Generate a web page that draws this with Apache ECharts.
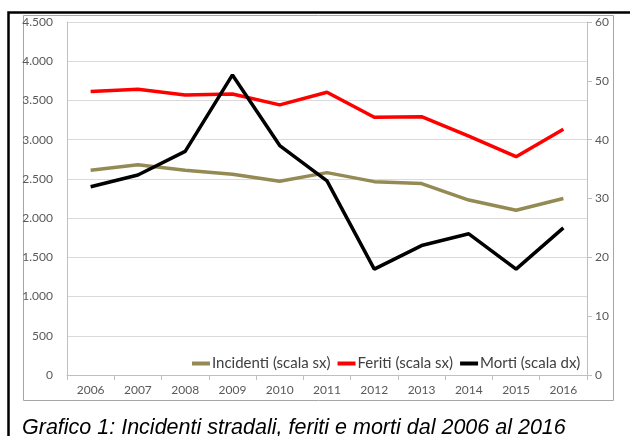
<!DOCTYPE html>
<html>
<head>
<meta charset="utf-8">
<script src="https://cdn.jsdelivr.net/npm/echarts@6/dist/echarts.min.js"></script>
<style>
  html, body { margin: 0; padding: 0; background: #fff; }
  #chart { width: 630px; height: 436px; }
</style>
</head>
<body>
<div id="chart"></div>
<script>
// anni sull'asse x
const years = ["2006", "2007", "2008", "2009", "2010", "2011", "2012", "2013", "2014", "2015", "2016"];

// valori
const incidenti = [2610, 2680, 2610, 2560, 2470, 2580, 2465, 2440, 2230, 2100, 2250];
const feriti = [3613, 3643, 3570, 3583, 3443, 3604, 3285, 3293, 3045, 2783, 3132];
const morti = [32, 34, 38, 51, 39, 33, 18, 22, 24, 18, 25];

const caption = "Grafico 1: Incidenti stradali, feriti e morti dal 2006 al 2016";

const labelFont = "Lato, 'Open Sans', sans-serif";
const axisGray = "#bfbfbf";

const fmtThousands = (v) => String(v).replace(/\B(?=(\d{3})+(?!\d))/g, ".");

const chart = echarts.init(document.getElementById("chart"));

chart.setOption({
    animation: false,
    textStyle: { fontFamily: labelFont },
    grid: {
        left: 67,
        right: 43,
        top: 22,
        bottom: 61,
    },
    graphic: [
        {
            type: "rect",
            shape: { x: 23.5, y: 15.5, width: 590, height: 385 },
            style: { fill: null, stroke: "#a6a6a6", lineWidth: 1 },
            silent: true,
        },
        {
            type: "rect",
            shape: { x: 8.5, y: 12.5, width: 640, height: 460 },
            style: { fill: null, stroke: "#000", lineWidth: 2.5 },
            silent: true,
        },
        {
            type: "text",
            left: 22,
            top: 417,
            style: {
                text: caption,
                fill: "#000",
                font: "italic 21.5px 'Liberation Sans', Arial, sans-serif",
            },
            silent: true,
        },
    ],
    legend: {
        left: 187,
        top: 351,
        itemGap: 7,
        itemWidth: 18,
        itemHeight: 4,
        icon: "rect",
        textStyle: { fontSize: 15, color: "#404040", fontFamily: labelFont, padding: [0, 0, 0, -3] },
        data: ["Incidenti (scala sx)", "Feriti (scala sx)", "Morti (scala dx)"],
    },
    xAxis: {
        type: "category",
        data: years,
        axisLine: { lineStyle: { color: axisGray } },
        axisTick: { show: true, length: 5, lineStyle: { color: axisGray } },
        axisLabel: { color: "#595959", fontSize: 12, margin: 9 },
    },
    yAxis: [
        {
            type: "value",
            min: 0,
            max: 4500,
            interval: 500,
            axisLine: { show: true, lineStyle: { color: axisGray } },
            axisTick: { show: false },
            axisLabel: {
                color: "#595959",
                fontSize: 12,
                margin: 14,
                formatter: fmtThousands,
            },
            splitLine: { lineStyle: { color: "#d9d9d9" } },
        },
        {
            type: "value",
            min: 0,
            max: 60,
            interval: 10,
            position: "right",
            axisLine: { show: true, lineStyle: { color: axisGray } },
            axisTick: { show: true, length: 5, lineStyle: { color: axisGray } },
            axisLabel: { color: "#595959", fontSize: 12, margin: 8 },
            splitLine: { show: false },
        },
    ],
    series: [
        {
            name: "Incidenti (scala sx)",
            type: "line",
            data: incidenti,
            yAxisIndex: 0,
            symbol: "none",
            lineStyle: { color: "#948a54", width: 3.5 },
            itemStyle: { color: "#948a54" },
        },
        {
            name: "Feriti (scala sx)",
            type: "line",
            data: feriti,
            yAxisIndex: 0,
            symbol: "none",
            lineStyle: { color: "#ff0000", width: 3.5 },
            itemStyle: { color: "#ff0000" },
        },
        {
            name: "Morti (scala dx)",
            type: "line",
            data: morti,
            yAxisIndex: 1,
            symbol: "none",
            lineStyle: { color: "#000000", width: 3.5 },
            itemStyle: { color: "#000000" },
        },
    ],
});
</script>
</body>
</html>
